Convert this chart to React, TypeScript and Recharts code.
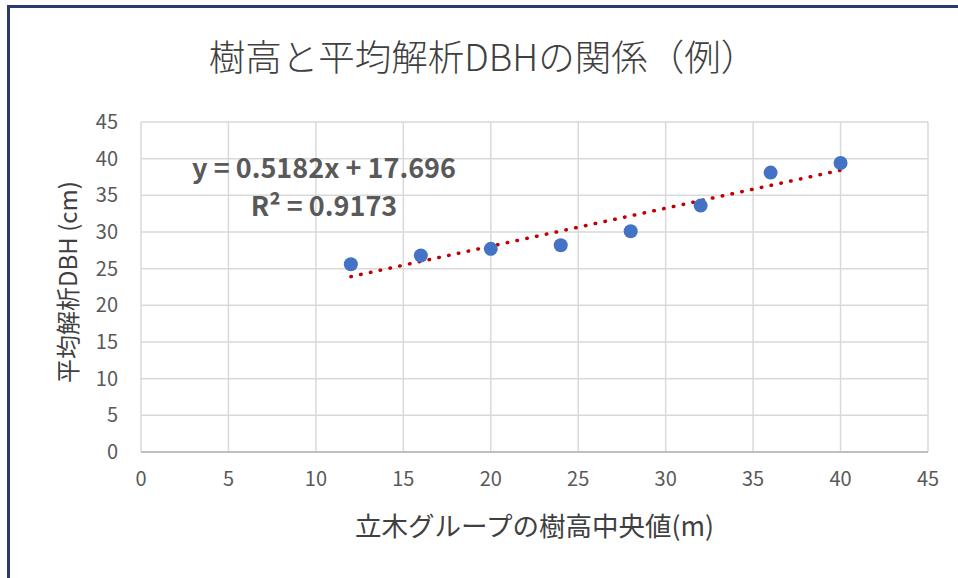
import { ScatterChart, Scatter, XAxis, YAxis, CartesianGrid } from 'recharts';

// tree height median (m) vs mean analysed DBH (cm)
const heights = [12, 16, 20, 24, 28, 32, 36, 40];
const dbh = [25.6, 26.8, 27.7, 28.2, 30.1, 33.6, 38.1, 39.4];
const xTicks = [0, 5, 10, 15, 20, 25, 30, 35, 40, 45];
const yTicks = [0, 5, 10, 15, 20, 25, 30, 35, 40, 45];
const slope = 0.5182;
const intercept = 17.696;
const rSquared = 0.9173;

const points = heights.map((h, i) => ({ x: h, y: dbh[i] }));
const trend = [heights[0], heights[heights.length - 1]].map((x) => ({ x, y: intercept + slope * x }));

const FONT = '"Noto Sans CJK JP", "Noto Sans", sans-serif';
const GREY = '#595959';

const Dot = (props: any) => <circle cx={props.cx} cy={props.cy} r={7} fill="#4472c4" />;

export default function App() {
  return (
    <div style={{ position: 'absolute', left: 0, top: 0, width: 958, height: 578, background: '#fff', fontFamily: FONT }}>
      {/* frame edges */}
      <div style={{ position: 'absolute', left: 7, top: 5, right: 0, height: 3, background: '#2b3a6e' }} />
      <div style={{ position: 'absolute', left: 7, top: 5, bottom: 0, width: 3, background: '#2b3a6e' }} />

      <div style={{ position: 'absolute', left: 4, width: 958, top: 32, textAlign: 'center', fontSize: 36.5, color: '#404040', fontWeight: 300, lineHeight: '48px' }}>
        樹高と平均解析DBHの関係（例）
      </div>

      <ScatterChart width={958} height={578} margin={{ top: 122, right: 30, bottom: 0, left: 0 }} style={{ position: 'absolute', left: 0, top: 0 }}>
        <CartesianGrid stroke="#d9d9d9" strokeWidth={1.5} horizontalValues={yTicks} verticalValues={xTicks} />
        <XAxis
          type="number"
          dataKey="x"
          domain={[0, 45]}
          ticks={xTicks}
          height={126}
          tickSize={0}
          tickMargin={20}
          axisLine={{ stroke: '#bfbfbf', strokeWidth: 2 }}
          tick={{ fill: GREY, fontSize: 20, fontFamily: FONT }}
          label={{ value: '立木グループの樹高中央値(m)', position: 'insideBottom', offset: 42, fill: '#404040', fontSize: 26.5, fontFamily: FONT }}
        />
        <YAxis
          type="number"
          dataKey="y"
          domain={[0, 45]}
          ticks={yTicks}
          width={141}
          tickSize={0}
          tickMargin={23}
          axisLine={false}
          tick={{ fill: GREY, fontSize: 20, fontFamily: FONT }}
          label={{
            content: (p: any) => {
              const vb = p.viewBox;
              const cy = vb.y + vb.height / 2 - 5;
              return (
                <text x={66} y={cy} transform={`rotate(-90 66 ${cy})`} textAnchor="middle" dominantBaseline="central" fill="#404040" fontSize={24} fontFamily={FONT}>
                  平均解析DBH (cm)
                </text>
              );
            },
          }}
        />
        <Scatter
          data={trend}
          isAnimationActive={false}
          shape={() => null}
          line={{ stroke: '#c00000', strokeWidth: 3.5, strokeDasharray: '0.5 9.5', strokeLinecap: 'round' } as any}
        />
        <Scatter data={points} isAnimationActive={false} shape={Dot} />
      </ScatterChart>

      <div style={{ position: 'absolute', left: 124, width: 400, top: 148, textAlign: 'center', fontSize: 27, fontWeight: 700, color: GREY, lineHeight: '38px' }}>
        <div>y = {slope}x + {intercept}</div>
        <div>R² = {rSquared}</div>
      </div>
    </div>
  );
}
